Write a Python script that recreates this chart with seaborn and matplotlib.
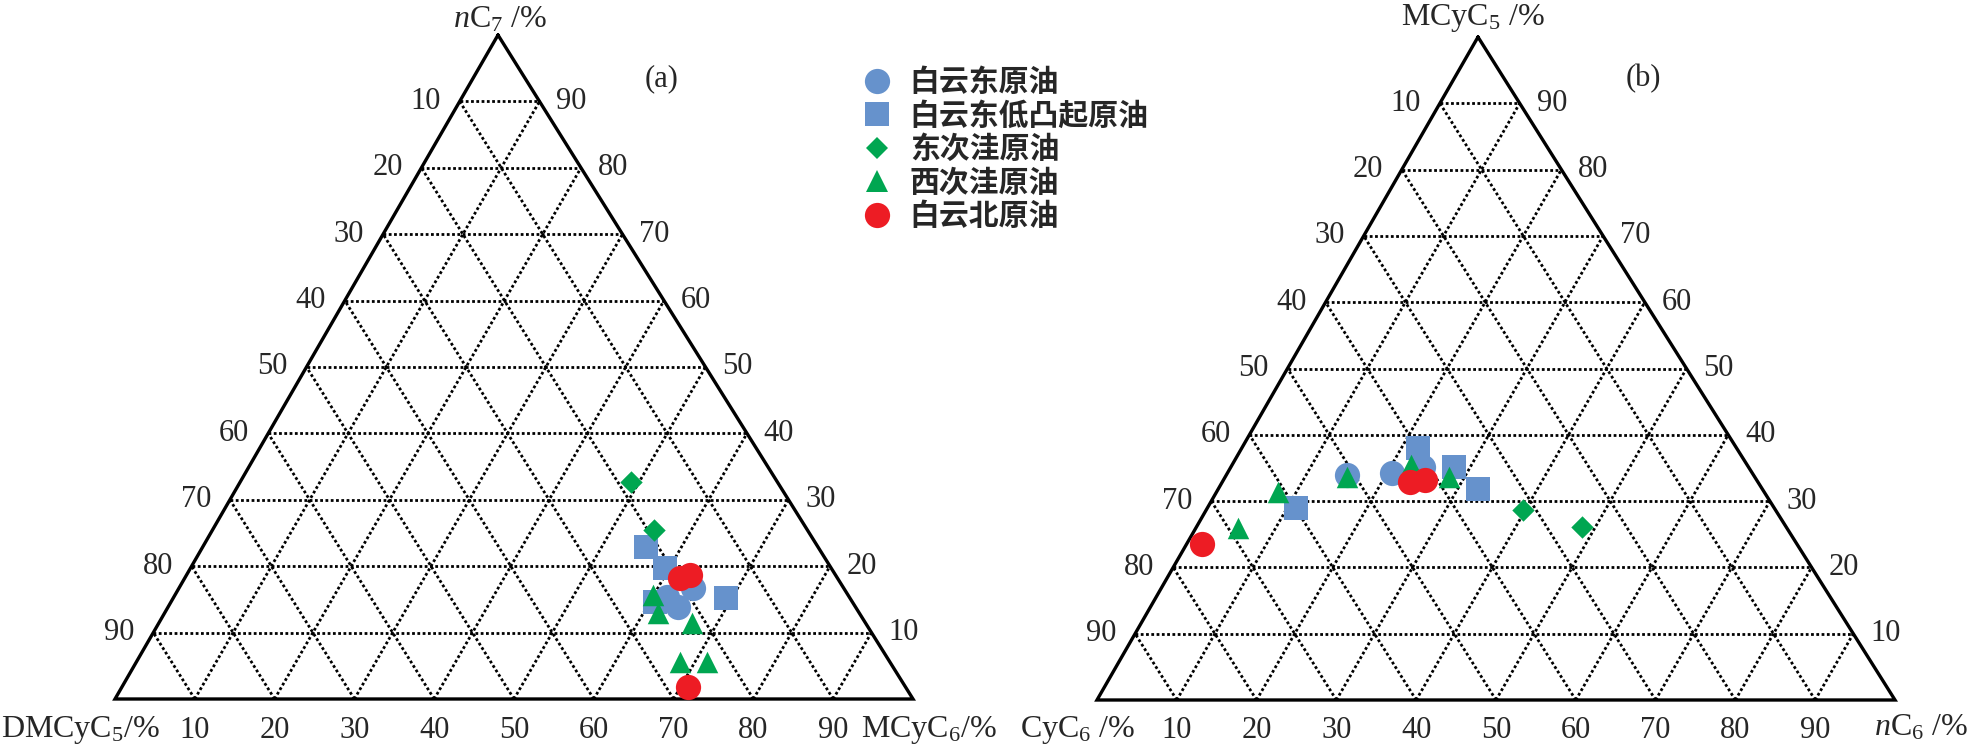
import numpy as np
import pandas as pd
import matplotlib
matplotlib.use("Agg")
import matplotlib.pyplot as plt
from matplotlib.lines import Line2D
import seaborn as sns

# group names (legend order) and styles
GROUPS = ["白云东原油", "白云东低凸起原油", "东次洼原油", "西次洼原油", "白云北原油"]
GROUP_COLORS = ["#6692CC", "#6692CC", "#00A651", "#00A651", "#ED1C24"]
GROUP_MARKERS = ["o", "s", "D", "^", "o"]
GROUP_SIZES = [330, 300, 130, 240, 330]
DRAW_ORDER = [1, 0, 2, 3, 4]

# panel (a): nC7 (top), MCyC6 (right), DMCyC5 (left), in %
A_NC7 = [
    [16.7, 13.9, 15.4],
    [22.9, 19.7, 15.2, 14.6],
    [32.7, 25.5],
    [15.7, 13.0, 11.5, 5.6, 5.6],
    [18.2, 18.7, 1.8],
]
A_MCYC6 = [
    [64.4, 63.9, 61.8],
    [55.6, 59.5, 69.3, 60.7],
    [49.0, 55.3],
    [59.9, 61.8, 66.8, 68.1, 71.5],
    [62.1, 63.1, 70.9],
]
A_DMCYC5 = [
    [18.9, 22.2, 22.8],
    [21.5, 20.8, 15.5, 24.7],
    [18.3, 19.2],
    [24.4, 25.2, 21.7, 26.3, 22.9],
    [19.7, 18.2, 27.3],
]

# panel (b): MCyC5 (top), nC6 (right), CyC6 (left), in %
B_MCYC5 = [
    [33.9, 34.2, 35.2],
    [28.9, 38.0, 35.2, 31.9],
    [28.7, 26.1],
    [25.9, 31.3, 33.7, 35.5, 33.7],
    [23.5, 32.9, 33.2],
]
B_NC6 = [
    [15.1, 20.6, 24.1],
    [11.2, 22.1, 27.9, 32.5],
    [39.7, 48.3],
    [5.3, 7.8, 15.2, 22.4, 28.0],
    [1.9, 23.5, 25.3],
]
B_CYC6 = [
    [51.0, 45.2, 40.7],
    [59.9, 39.9, 36.9, 35.6],
    [31.6, 25.6],
    [68.8, 60.9, 51.1, 42.1, 38.3],
    [74.6, 43.6, 41.5],
]

TICKS = [10, 20, 30, 40, 50, 60, 70, 80, 90]

# triangle corners on the canvas (pixels): top, right, left
TRI_A = {"top": (498, 35), "right": (913, 699), "left": (115, 699)}
TRI_B = {"top": (1478, 37), "right": (1895, 700), "left": (1097, 700)}

sns.set_style("white")
plt.rcParams["font.family"] = ["Liberation Serif", "Noto Sans CJK SC"]
plt.rcParams["mathtext.fontset"] = "custom"
plt.rcParams["mathtext.rm"] = "Liberation Serif"
plt.rcParams["mathtext.it"] = "Liberation Serif:italic"

TICK_FS = 22


def tern_xy(tri, top, right, left):
    top = np.asarray(top, float)
    right = np.asarray(right, float)
    left = np.asarray(left, float)
    s = top + right + left
    x = (top * tri["top"][0] + right * tri["right"][0] + left * tri["left"][0]) / s
    y = (top * tri["top"][1] + right * tri["right"][1] + left * tri["left"][1]) / s
    return x, y


def draw_frame(ax, tri):
    for k in TICKS:
        f = k / 100
        segs = [
            ((f, 0, 1 - f), (f, 1 - f, 0)),
            ((0, f, 1 - f), (1 - f, f, 0)),
            ((0, 1 - f, f), (1 - f, 0, f)),
        ]
        for p0, p1 in segs:
            x0, y0 = tern_xy(tri, *p0)
            x1, y1 = tern_xy(tri, *p1)
            ax.plot([x0, x1], [y0, y1], color="black", lw=2.0,
                    linestyle=(0, (1, 0.9)), zorder=1)
    xs, ys = zip(tri["top"], tri["right"], tri["left"], tri["top"])
    ax.plot(xs, ys, color="black", lw=2.4, solid_joinstyle="miter", zorder=2)

    for k in TICKS:
        f = k / 100
        # left edge: value of the left component
        x, y = tern_xy(tri, f, 0, 1 - f)
        ax.text(x - 34, y, str(100 - k), ha="center", va="center", fontsize=TICK_FS)
        # right edge: value of the top component
        x, y = tern_xy(tri, f, 1 - f, 0)
        ax.text(x + 32, y, str(k), ha="center", va="center", fontsize=TICK_FS)
        # base: value of the right component
        x, y = tern_xy(tri, 0, f, 1 - f)
        ax.text(x, y + 31, str(k), ha="center", va="center", fontsize=TICK_FS)


def draw_points(ax, tri, tops, rights, lefts):
    for g in DRAW_ORDER:
        x, y = tern_xy(tri, tops[g], rights[g], lefts[g])
        df = pd.DataFrame({"x": x, "y": y})
        sns.scatterplot(data=df, x="x", y="y", ax=ax, color=GROUP_COLORS[g],
                        marker=GROUP_MARKERS[g], s=GROUP_SIZES[g],
                        linewidth=0, legend=False, zorder=3 + g)


fig = plt.figure(figsize=(19.69, 7.5), dpi=100)
ax = fig.add_axes([0, 0, 1, 1])
ax.set_xlim(0, 1969)
ax.set_ylim(750, 0)
ax.axis("off")

draw_frame(ax, TRI_A)
draw_frame(ax, TRI_B)
draw_points(ax, TRI_A, A_NC7, A_MCYC6, A_DMCYC5)
draw_points(ax, TRI_B, B_MCYC5, B_NC6, B_CYC6)

# corner / axis titles
lab = dict(ha="center", va="center", fontsize=23)
ax.text(500, 20, r"$\it{n}$C$_7$ /%", **lab)
ax.text(80, 730, r"DMCyC$_5$/%", **lab)
ax.text(929, 730, r"MCyC$_6$/%", **lab)
ax.text(662, 79, "(a)", ha="center", va="center", fontsize=TICK_FS)
ax.text(1473, 18, r"MCyC$_5$ /%", **lab)
ax.text(1078, 730, r"CyC$_6$ /%", **lab)
ax.text(1921, 728, r"$\it{n}$C$_6$ /%", **lab)
ax.text(1643, 79, "(b)", ha="center", va="center", fontsize=TICK_FS)

handles = [
    Line2D([], [], linestyle="none", marker=m, color=c, markeredgewidth=0,
           markersize=np.sqrt(s))
    for m, c, s in zip(GROUP_MARKERS, GROUP_COLORS, GROUP_SIZES)
]
ax.legend(handles, GROUPS, loc="upper left",
          bbox_to_anchor=(862 / 1969, 1 - 67 / 750), frameon=False,
          prop={"family": "Noto Sans CJK SC", "size": 21.5, "weight": "bold"},
          handlelength=1.0, handletextpad=0.6, labelspacing=0.12,
          borderpad=0, borderaxespad=0)

fig.savefig("out.png", dpi=100)
